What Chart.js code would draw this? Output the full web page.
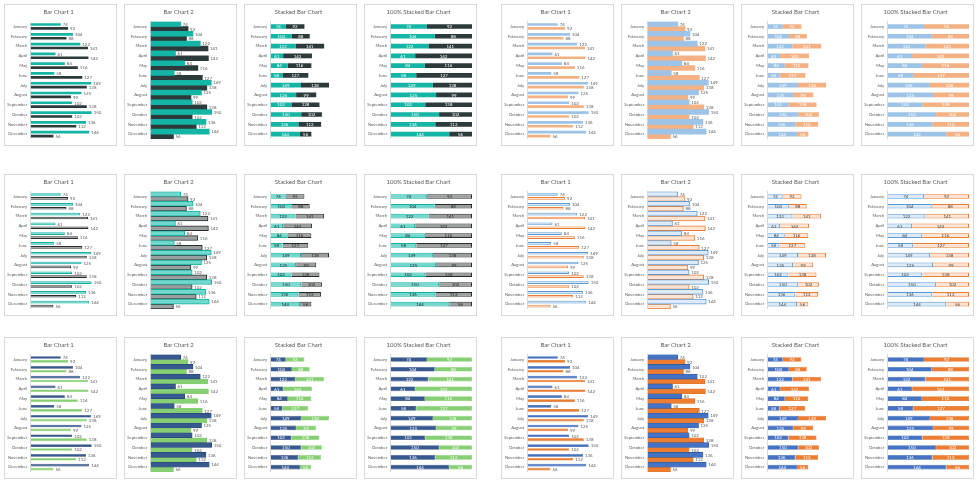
<!DOCTYPE html>
<html>
<head>
<meta charset="utf-8">
<script src="https://cdn.jsdelivr.net/npm/chart.js@4.4.0/dist/chart.umd.min.js"></script>
<style>
  body { margin: 0; background: #fff; width: 980px; height: 485px; overflow: hidden; position: relative; }
  .panel { position: absolute; width: 113px; height: 142px; border: 1px solid #d9d9d9; box-sizing: border-box; background: #fff; }
  .panel canvas { display: block; }
</style>
</head>
<body>
<script>
// Data
const months = ['January', 'February', 'March', 'April', 'May', 'June', 'July', 'August', 'September', 'October', 'November', 'December'];
const seriesA = [74, 104, 122, 61, 84, 58, 149, 125, 102, 150, 136, 144];
const seriesB = [92, 88, 141, 142, 116, 127, 138, 99, 138, 102, 112, 56];
const chartTitles = ['Bar Chart 1', 'Bar Chart 2', 'Stacked Bar Chart', '100% Stacked Bar Chart'];

// Grid of panels
const colLeft = [4, 124, 244, 364, 501, 621, 741, 861];
const rowTop = [4, 174, 337];

// Colour themes per row, left group / right group
const themes = [
  [
    { fillA: '#14B5A4', lineA: '#14B5A4', fillB: '#2D3A3C', lineB: '#2D3A3C', width: 0, inside: '#ffffff' },
    { fillA: '#9DC3E6', lineA: '#9DC3E6', fillB: '#F4B183', lineB: '#F4B183', width: 0, inside: '#ffffff' },
  ],
  [
    { fillA: '#72D7CC', lineA: '#10B3A2', fillB: '#9A9FA0', lineB: '#2B2B2B', width: 1, inside: '#262626' },
    { fillA: '#DEEBF7', lineA: '#5B9BD5', fillB: '#FBE5D6', lineB: '#ED7D31', width: 1, inside: '#404040' },
  ],
  [
    { fillA: '#36598F', lineA: '#27426C', fillB: '#86CF72', lineB: '#86CF72', width: 0.6, inside: '#ffffff' },
    { fillA: '#4472C4', lineA: '#2F5597', fillB: '#ED7D31', lineB: '#D86C22', width: 0.6, inside: '#ffffff' },
  ],
];

// Draw value labels at end of bars or in the middle of stacked segments
const valueLabels = {
  id: 'valueLabels',
  afterDatasetsDraw(chart, args, opts) {
    const ctx = chart.ctx;
    ctx.save();
    ctx.font = '4.4px Lato';
    ctx.textBaseline = 'middle';
    chart.data.datasets.forEach((ds, i) => {
      const meta = chart.getDatasetMeta(i);
      meta.data.forEach((bar, j) => {
        const text = String(ds.rawValues[j]);
        if (opts.inside) {
          ctx.fillStyle = opts.color;
          ctx.textAlign = 'center';
          ctx.fillText(text, (bar.x + bar.base) / 2, bar.y + 0.3);
        } else {
          ctx.fillStyle = '#595959';
          ctx.textAlign = 'left';
          ctx.fillText(text, bar.x + 2, bar.y + 0.3);
        }
      });
    });
    ctx.restore();
  }
};

const makeChart = (left, top, kind, theme) => {
  const panel = document.createElement('div');
  panel.className = 'panel';
  panel.style.left = left + 'px';
  panel.style.top = top + 'px';
  const canvas = document.createElement('canvas');
  canvas.width = 111;
  canvas.height = 140;
  panel.appendChild(canvas);
  document.body.appendChild(panel);

  const stacked = kind >= 2;
  const percent = kind === 3;
  const toPct = (v, j) => percent ? v / (seriesA[j] + seriesB[j]) * 100 : v;

  let catPct = 0.8, barPct = 0.68;
  if (kind === 1) { catPct = 1; barPct = 1; }
  if (stacked) { catPct = 1; barPct = 0.48; }

  const xMax = [200, 200, 400, 100][kind];

  new Chart(canvas.getContext('2d'), {
    type: 'bar',
    data: {
      labels: months,
      datasets: [
        {
          data: seriesA.map(toPct),
          rawValues: seriesA,
          backgroundColor: theme.fillA,
          borderColor: theme.lineA,
          borderWidth: theme.width,
          categoryPercentage: catPct,
          barPercentage: barPct,
        },
        {
          data: seriesB.map(toPct),
          rawValues: seriesB,
          backgroundColor: theme.fillB,
          borderColor: theme.lineB,
          borderWidth: theme.width,
          categoryPercentage: catPct,
          barPercentage: barPct,
        },
      ],
    },
    options: {
      indexAxis: 'y',
      responsive: false,
      animation: false,
      layout: { padding: { left: 0, right: 4, top: 0, bottom: 4 } },
      plugins: {
        legend: { display: false },
        tooltip: { enabled: false },
        title: {
          display: true,
          text: chartTitles[kind],
          color: '#595959',
          font: { family: 'Lato', size: 6, weight: 'normal' },
          padding: { top: 3.8, bottom: 5.6 },
        },
        valueLabels: { inside: stacked, color: theme.inside },
      },
      scales: {
        x: { display: false, stacked: stacked, min: 0, max: xMax },
        y: {
          stacked: stacked,
          grid: { display: false, drawTicks: false, tickLength: 0 },
          border: { display: true, color: '#d9d9d9', width: 1 },
          ticks: { color: '#595959', font: { family: 'Lato', size: 4.2 }, padding: 3.5, autoSkip: false },
          afterFit: (scale) => { scale.width = 25.7; },
        },
      },
    },
    plugins: [valueLabels],
  });
};

rowTop.forEach((top, r) => {
  colLeft.forEach((left, c) => {
    const group = c < 4 ? 0 : 1;
    makeChart(left, top, c % 4, themes[r][group]);
  });
});
</script>
</body>
</html>
